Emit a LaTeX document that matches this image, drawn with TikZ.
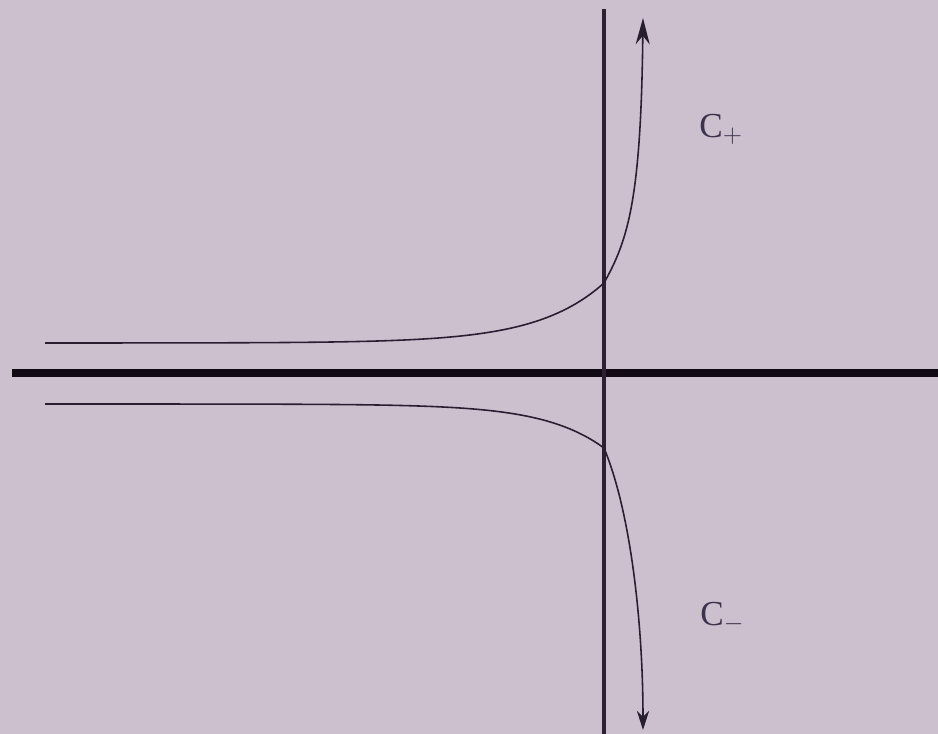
\documentclass[tikz,border=0pt]{standalone}
\usepackage{fontspec}
\setmainfont{Liberation Serif}
\usetikzlibrary{arrows.meta}
\definecolor{bgmauve}{RGB}{204,191,206}
\definecolor{axisdark}{RGB}{18,10,20}
\definecolor{vaxis}{RGB}{45,32,50}
\definecolor{curvecol}{RGB}{40,30,48}
\definecolor{labelcol}{RGB}{60,50,75}
\tikzset{
  haxis/.style={draw=axisdark, line width=4pt},
  vaxisline/.style={draw=vaxis, line width=2.8pt},
  branch/.style={draw=curvecol, line width=0.9pt},
  lbl/.style={anchor=base west, inner sep=0pt, text=labelcol, font=\fontsize{20}{24}\selectfont}
}
\begin{document}
\begin{tikzpicture}[x=0.02cm, y=-0.02cm]
\fill[bgmauve] (0,0) rectangle (938,734);
\useasboundingbox (0,0) rectangle (938,734);
% axes
\coordinate (hl) at (12,373);
\coordinate (hr) at (938,373);
\coordinate (vt) at (604,9);
\coordinate (vb) at (604,734);
\draw[haxis] (hl) -- (hr);
\draw[vaxisline] (vt) -- (vb);
% upper curve C+
\coordinate (up0) at (604,283);
\coordinate (uptip) at (643,18);
\draw[branch, -{Stealth[length=15pt, width=8pt]}]
  plot[domain=45:604, samples=80, smooth] (\x, {373-30-60*exp((\x-604)/66.7)})
  .. controls (628,240) and (641,200) .. (uptip);
% lower curve C-
\coordinate (lo0) at (604,448);
\coordinate (lotip) at (643,730);
\draw[branch, -{Stealth[length=11pt, width=7pt]}]
  plot[domain=45:604, samples=80, smooth] (\x, {373+31+44*exp((\x-604)/60)})
  .. controls (630,510) and (643,620) .. (lotip);
% labels
\node[lbl] (cp) at (699,137) {C$_+$};
\node[lbl] (cm) at (700,625) {C$_{-}$};
\end{tikzpicture}
\end{document}
